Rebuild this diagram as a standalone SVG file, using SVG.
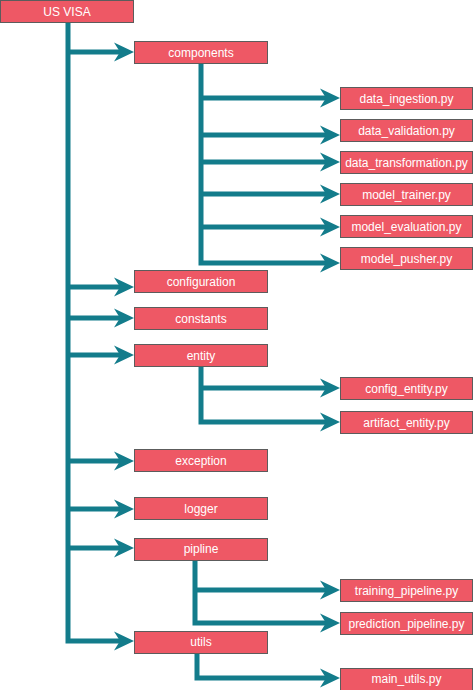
<svg xmlns="http://www.w3.org/2000/svg" width="474" height="690" viewBox="0 0 474 690">
<style>
.box{fill:#EE5865;stroke:#5C5C5C;stroke-width:1}
.lbl{font-family:"Liberation Sans",Arial,sans-serif;font-size:12px;fill:#ffffff;text-anchor:middle}
.con{fill:none;stroke:#137C8B;stroke-width:5;stroke-linejoin:miter}
</style>
<defs>
<marker id="arr" markerUnits="userSpaceOnUse" markerWidth="20" markerHeight="20" viewBox="0 0 20 20" refX="8" refY="10" orient="auto">
<path d="M0,0.5 L20,10 L0,19.5 L6,10 Z" fill="#137C8B"/>
</marker>
</defs>
<rect width="474" height="690" fill="#ffffff"/>
<g id="connectors">
<path class="con" d="M68,23 V641 H122" marker-end="url(#arr)"/>
<path class="con" d="M68,52 H122" marker-end="url(#arr)"/>
<path class="con" d="M68,287 H122" marker-end="url(#arr)"/>
<path class="con" d="M68,318 H122" marker-end="url(#arr)"/>
<path class="con" d="M68,355 H122" marker-end="url(#arr)"/>
<path class="con" d="M68,461 H122" marker-end="url(#arr)"/>
<path class="con" d="M68,509 H122" marker-end="url(#arr)"/>
<path class="con" d="M68,548 H122" marker-end="url(#arr)"/>
<path class="con" d="M201,63 V263 H328" marker-end="url(#arr)"/>
<path class="con" d="M201,98 H328" marker-end="url(#arr)"/>
<path class="con" d="M201,135 H328" marker-end="url(#arr)"/>
<path class="con" d="M201,162 H328" marker-end="url(#arr)"/>
<path class="con" d="M201,194 H328" marker-end="url(#arr)"/>
<path class="con" d="M201,227 H328" marker-end="url(#arr)"/>
<path class="con" d="M201,366 V422 H328" marker-end="url(#arr)"/>
<path class="con" d="M201,388 H328" marker-end="url(#arr)"/>
<path class="con" d="M195,560 V623 H328" marker-end="url(#arr)"/>
<path class="con" d="M195,590 H328" marker-end="url(#arr)"/>
<path class="con" d="M197,653 V678 H328" marker-end="url(#arr)"/>
</g>
<g id="us-visa"><rect class="box" x="0.5" y="0.5" width="133" height="22"/><text class="lbl" x="67" y="16">US VISA</text></g>
<g id="components"><rect class="box" x="134.5" y="41.5" width="133" height="22"/><text class="lbl" x="201" y="57">components</text></g>
<g id="data-ingestion"><rect class="box" x="340.5" y="87.5" width="132" height="22"/><text class="lbl" x="406.5" y="103">data_ingestion.py</text></g>
<g id="data-validation"><rect class="box" x="340.5" y="119.5" width="132" height="22"/><text class="lbl" x="406.5" y="135">data_validation.py</text></g>
<g id="data-transformation"><rect class="box" x="340.5" y="151.5" width="132" height="22"/><text class="lbl" x="406.5" y="167">data_transformation.py</text></g>
<g id="model-trainer"><rect class="box" x="340.5" y="183.5" width="132" height="22"/><text class="lbl" x="406.5" y="199">model_trainer.py</text></g>
<g id="model-evaluation"><rect class="box" x="340.5" y="215.5" width="132" height="22"/><text class="lbl" x="406.5" y="231">model_evaluation.py</text></g>
<g id="model-pusher"><rect class="box" x="340.5" y="247.5" width="132" height="22"/><text class="lbl" x="406.5" y="263">model_pusher.py</text></g>
<g id="configuration"><rect class="box" x="134.5" y="270.5" width="133" height="22"/><text class="lbl" x="201" y="286">configuration</text></g>
<g id="constants"><rect class="box" x="134.5" y="307.5" width="133" height="22"/><text class="lbl" x="201" y="323">constants</text></g>
<g id="entity"><rect class="box" x="134.5" y="344.5" width="133" height="22"/><text class="lbl" x="201" y="360">entity</text></g>
<g id="config-entity"><rect class="box" x="340.5" y="377.5" width="132" height="22"/><text class="lbl" x="406.5" y="393">config_entity.py</text></g>
<g id="artifact-entity"><rect class="box" x="340.5" y="411.5" width="132" height="22"/><text class="lbl" x="406.5" y="427">artifact_entity.py</text></g>
<g id="exception"><rect class="box" x="134.5" y="449.5" width="133" height="22"/><text class="lbl" x="201" y="465">exception</text></g>
<g id="logger"><rect class="box" x="134.5" y="497.5" width="133" height="22"/><text class="lbl" x="201" y="513">logger</text></g>
<g id="pipline"><rect class="box" x="134.5" y="538.5" width="133" height="22"/><text class="lbl" x="201" y="553">pipline</text></g>
<g id="training-pipeline"><rect class="box" x="340.5" y="579.5" width="132" height="22"/><text class="lbl" x="406.5" y="595">training_pipeline.py</text></g>
<g id="prediction-pipeline"><rect class="box" x="340.5" y="612.5" width="132" height="22"/><text class="lbl" x="406.5" y="628">prediction_pipeline.py</text></g>
<g id="utils"><rect class="box" x="134.5" y="631.5" width="133" height="22"/><text class="lbl" x="201" y="646">utils</text></g>
<g id="main-utils"><rect class="box" x="340.5" y="668.5" width="132" height="22"/><text class="lbl" x="406.5" y="683">main_utils.py</text></g>
</svg>
